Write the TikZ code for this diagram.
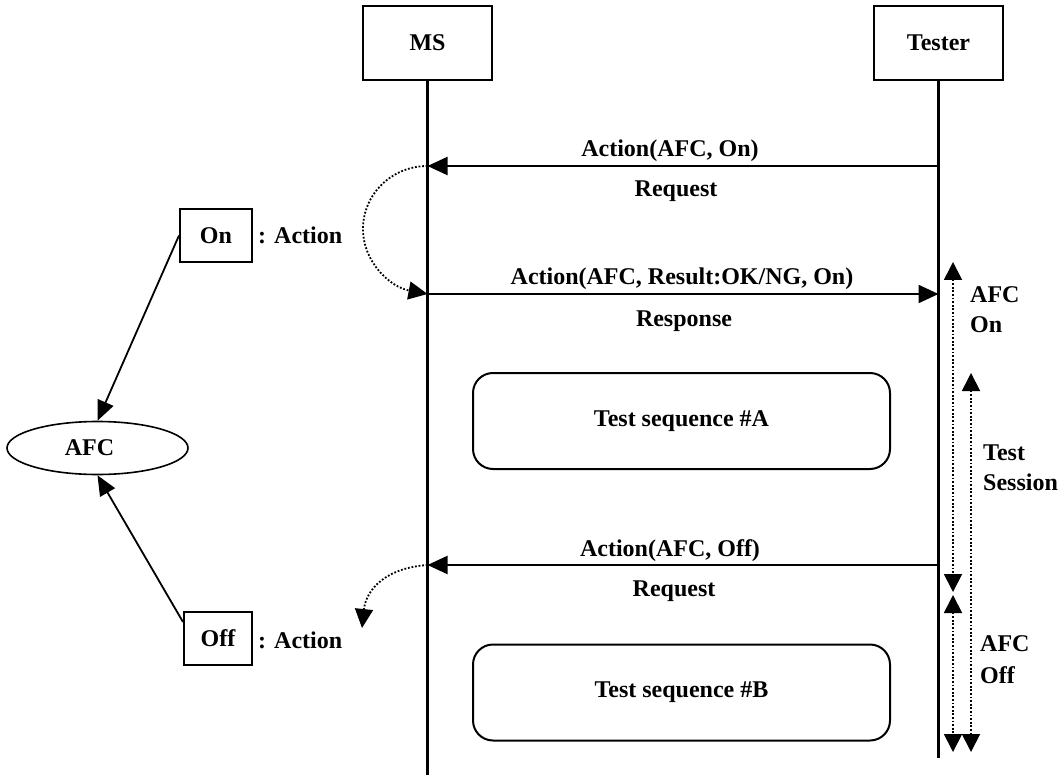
\documentclass[tikz,border=0pt]{standalone}
\usepackage{fontspec}
\setmainfont{Liberation Serif}
\usetikzlibrary{arrows.meta,calc,shapes.geometric}
\begin{document}
\begin{tikzpicture}[x=1pt,y=-1pt,
  every node/.style={font=\fontsize{24}{30}\selectfont\bfseries, inner sep=0pt},
  actor/.style={draw, line width=2pt, minimum width=129pt, minimum height=74pt},
  lifeline/.style={line width=2.2pt},
  msg/.style={line width=2.2pt, -{Triangle[length=20pt,width=18pt]}},
  statebox/.style={draw, line width=2pt, minimum height=53pt},
  seqbox/.style={draw, line width=2pt, rectangle, rounded corners=20pt,
    minimum width=417pt, minimum height=96pt},
  dots/.style={line width=1.8pt, dash pattern=on 1.8pt off 1.8pt},
  dotarrow/.style={dots, -{Triangle[length=19pt,width=18pt]}},
  span/.style={dots, {Triangle[length=18pt,width=18pt]}-{Triangle[length=18pt,width=18pt]}},
  link/.style={line width=1.8pt, -{Triangle[length=20pt,width=17pt]}},
  lbl/.style={anchor=base},
  side/.style={anchor=base west},
]
\useasboundingbox (0,0) rectangle (1064,775);

% participants and lifelines
\node[actor] (ms) at (427.5,43) {MS};
\node[actor] (tester) at (938.5,43) {Tester};
\coordinate (msEnd) at (427.5,775);
\coordinate (tEnd) at (938.5,758);
\draw[lifeline] (ms.south) -- (msEnd);
\draw[lifeline] (tester.south) -- (tEnd);

% message end points on the lifelines
\coordinate (t1) at (938.5,166);
\coordinate (m1) at (427.5,166);
\coordinate (m2) at (427.5,294);
\coordinate (t2) at (938.5,294);
\coordinate (t3) at (938.5,565);
\coordinate (m3) at (427.5,565);

% messages
\draw[msg] (t1) -- (m1);
\node[lbl] (l1) at (670,157) {Action(AFC, On)};
\node[lbl] (r1) at (676,197) {Request};

\draw[msg] (m2) -- (t2);
\node[lbl] (l2) at (682,284) {Action(AFC, Result:OK/NG, On)};
\node[lbl] (r2) at (684,326) {Response};

\draw[msg] (t3) -- (m3);
\node[lbl] (l3) at (670,556) {Action(AFC, Off)};
\node[lbl] (r3) at (674,596) {Request};

% test sequences
\node[seqbox] (seqA) at (681.5,421) {Test sequence \#A};
\node[seqbox] (seqB) at (681.5,692.5) {Test sequence \#B};

% MS internal handling of the requests
\coordinate (loopA) at (363,229);
\draw[dotarrow] (m1) .. controls (392,166) and (363,194) .. (loopA)
  .. controls (363,262) and (390,287) .. (m2);
\coordinate (offTip) at (362,628);
\draw[dotarrow] (m3) .. controls (385,568) and (366,590) .. (offTip);

% state spans on the tester side
\coordinate (onTop) at (953,262);
\coordinate (onBot) at (953,592);
\coordinate (offTop) at (953,595);
\coordinate (offBot) at (953,752);
\coordinate (sesTop) at (971,373);
\coordinate (sesBot) at (971,752);
\draw[span] (onTop) -- (onBot);
\draw[span] (offTop) -- (offBot);
\draw[span] (sesTop) -- (sesBot);

\node[side] (afcOnA) at (970,302) {AFC};
\node[side] (afcOnB) at (970,332) {On};
\node[side] (sesA) at (983,460) {Test};
\node[side] (sesB) at (983,490) {Session};
\node[side] (afcOffA) at (980,651) {AFC};
\node[side] (afcOffB) at (980,683) {Off};

% AFC state object and its actions
\node[statebox, minimum width=72pt] (on) at (216,235.5) {On};
\node[side] (onAct) at (258,244) {: Action};
\node[statebox, minimum width=68pt] (off) at (218,638.5) {Off};
\node[side] (offAct) at (258,648) {: Action};
\node[draw, ellipse, line width=1.6pt, minimum width=181pt, minimum height=53pt]
  (afc) at (97.5,448) {AFC\hspace*{16pt}};

\draw[link] (on.west) -- (afc.north);
\draw[link] ($(off.north west)!0.2!(off.south west)$) -- (afc.south);
\end{tikzpicture}
\end{document}
